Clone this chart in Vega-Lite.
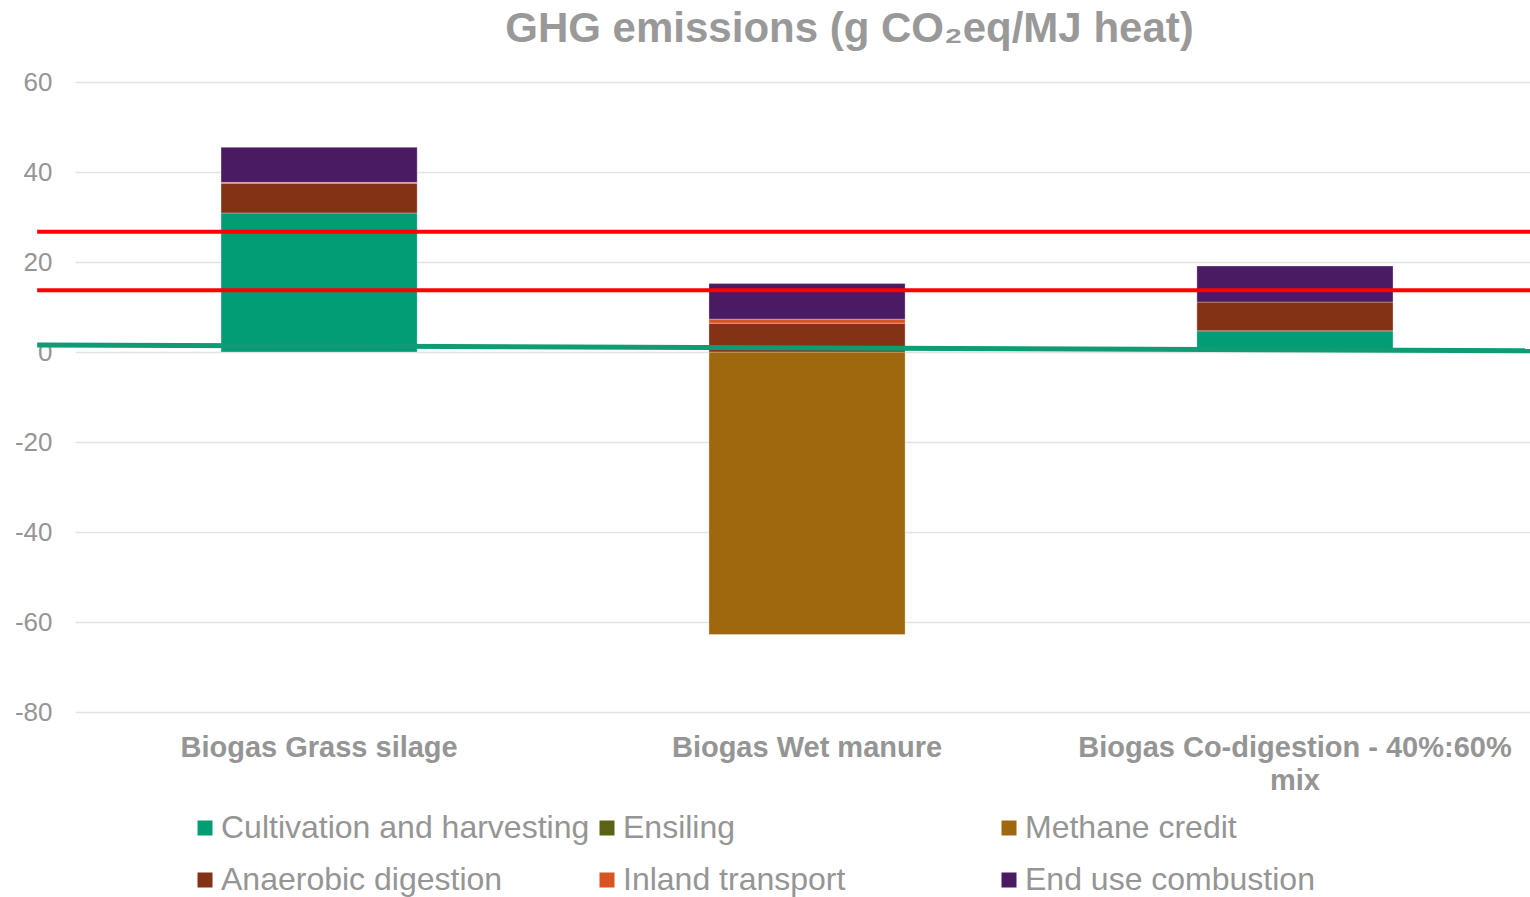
{
  "$schema": "https://vega.github.io/schema/vega-lite/v6.json",
  "width": 1455,
  "height": 630,
  "autosize": {"type": "none"},
  "padding": {"left": 75, "top": 82, "right": 0, "bottom": 185},
  "background": "white",
  "config": {
    "font": "Liberation Sans",
    "view": {"stroke": null}
  },
  "title": {
    "text": "GHG emissions (g CO₂eq/MJ heat)",
    "fontSize": 42,
    "fontWeight": "bold",
    "color": "#999999",
    "font": "Liberation Sans",
    "anchor": "middle",
    "dx": 47,
    "offset": 18
  },
  "datasets": {
    "bars": [
      {"pathway": "Biogas Grass silage", "stage": "Cultivation and harvesting", "k": 1, "value": 30.9},
      {"pathway": "Biogas Grass silage", "stage": "Anaerobic digestion", "k": 4, "value": 6.6},
      {"pathway": "Biogas Grass silage", "stage": "Inland transport", "k": 5, "value": 0.2},
      {"pathway": "Biogas Grass silage", "stage": "End use combustion", "k": 6, "value": 7.8},
      {"pathway": "Biogas Wet manure", "stage": "Methane credit", "k": 3, "value": -62.8},
      {"pathway": "Biogas Wet manure", "stage": "Anaerobic digestion", "k": 4, "value": 6.4},
      {"pathway": "Biogas Wet manure", "stage": "Inland transport", "k": 5, "value": 0.9},
      {"pathway": "Biogas Wet manure", "stage": "End use combustion", "k": 6, "value": 7.9},
      {"pathway": "Biogas Co-digestion - 40%:60% mix", "stage": "Cultivation and harvesting", "k": 1, "value": 4.7},
      {"pathway": "Biogas Co-digestion - 40%:60% mix", "stage": "Anaerobic digestion", "k": 4, "value": 6.4},
      {"pathway": "Biogas Co-digestion - 40%:60% mix", "stage": "End use combustion", "k": 6, "value": 8.0}
    ],
    "lines": [
      {"line": "upper", "pos": -0.026, "value": 26.7},
      {"line": "upper", "pos": 1, "value": 26.7},
      {"line": "lower", "pos": -0.026, "value": 13.7},
      {"line": "lower", "pos": 1, "value": 13.7},
      {"line": "trend", "pos": -0.026, "value": 1.55},
      {"line": "trend", "pos": 1, "value": 0.3}
    ]
  },
  "layer": [
    {
      "data": {"name": "bars"},
      "mark": {"type": "bar", "stroke": "#ffffff", "strokeOpacity": 0.3, "strokeWidth": 1},
      "encoding": {
        "x": {
          "field": "pathway",
          "type": "nominal",
          "sort": ["Biogas Grass silage", "Biogas Wet manure", "Biogas Co-digestion - 40%:60% mix"],
          "scale": {"paddingInner": 0.598, "paddingOuter": 0.29, "align": 0.516},
          "title": null,
          "axis": {
            "domain": false,
            "ticks": false,
            "grid": false,
            "labelAngle": 0,
            "labelFontSize": 29,
            "labelFontWeight": "bold",
            "labelColor": "#959595",
            "labelFont": "Liberation Sans",
            "labelPadding": 21,
            "labelLimit": 800,
            "labelLineHeight": 33,
            "labelBaseline": "top",
            "labelExpr": "datum.label == 'Biogas Co-digestion - 40%:60% mix' ? ['Biogas Co-digestion - 40%:60%', 'mix'] : datum.label"
          }
        },
        "y": {
          "field": "value",
          "type": "quantitative",
          "stack": "zero",
          "title": null,
          "scale": {"domain": [-80, 60], "nice": false, "zero": false},
          "axis": {
            "values": [-80, -60, -40, -20, 0, 20, 40, 60],
            "domain": false,
            "ticks": false,
            "labelFontSize": 26,
            "labelColor": "#959595",
            "labelPadding": 23,
            "gridColor": "#e3e3e3",
            "gridWidth": 1.5,
            "labelFont": "Liberation Sans",
            "labelExpr": "datum.value < 0 ? '-' + abs(datum.value) : '' + datum.value"
          }
        },
        "color": {
          "field": "stage",
          "type": "nominal",
          "scale": {
            "domain": ["Cultivation and harvesting", "Ensiling", "Methane credit", "Anaerobic digestion", "Inland transport", "End use combustion"],
            "range": ["#029C75", "#5D6314", "#A0680E", "#833216", "#D95323", "#4A1A62"]
          },
          "legend": {
            "orient": "none",
            "legendX": 114,
            "legendY": 730,
            "direction": "horizontal",
            "columns": 3,
            "title": null,
            "labelFontSize": 32,
            "labelColor": "#959595",
            "labelFont": "Liberation Sans",
            "symbolType": "square",
            "symbolSize": 225,
            "symbolStrokeWidth": 0,
            "symbolOpacity": 1,
            "labelLimit": 800,
            "rowPadding": 20,
            "columnPadding": 1,
            "gridAlign": "all",
            "labelOffset": 0
          }
        },
        "order": {"field": "k", "type": "quantitative"}
      }
    },
    {
      "data": {"name": "lines"},
      "transform": [{"filter": "datum.line == 'upper'"}],
      "mark": {"type": "line", "color": "#FF0000", "strokeWidth": 4, "strokeCap": "butt"},
      "encoding": {
        "x": {"field": "pos", "type": "quantitative", "scale": {"domain": [0, 1], "nice": false, "zero": false}, "axis": null},
        "y": {"field": "value", "type": "quantitative", "title": null, "scale": {"domain": [-80, 60], "nice": false, "zero": false}}
      }
    },
    {
      "data": {"name": "lines"},
      "transform": [{"filter": "datum.line == 'lower'"}],
      "mark": {"type": "line", "color": "#FF0000", "strokeWidth": 4, "strokeCap": "butt"},
      "encoding": {
        "x": {"field": "pos", "type": "quantitative", "scale": {"domain": [0, 1], "nice": false, "zero": false}, "axis": null},
        "y": {"field": "value", "type": "quantitative", "title": null, "scale": {"domain": [-80, 60], "nice": false, "zero": false}}
      }
    },
    {
      "data": {"name": "lines"},
      "transform": [{"filter": "datum.line == 'trend'"}],
      "mark": {"type": "line", "color": "#0F9B74", "strokeWidth": 5, "strokeCap": "butt"},
      "encoding": {
        "x": {"field": "pos", "type": "quantitative", "scale": {"domain": [0, 1], "nice": false, "zero": false}, "axis": null},
        "y": {"field": "value", "type": "quantitative", "title": null, "scale": {"domain": [-80, 60], "nice": false, "zero": false}}
      }
    }
  ],
  "resolve": {"scale": {"x": "independent"}}
}
